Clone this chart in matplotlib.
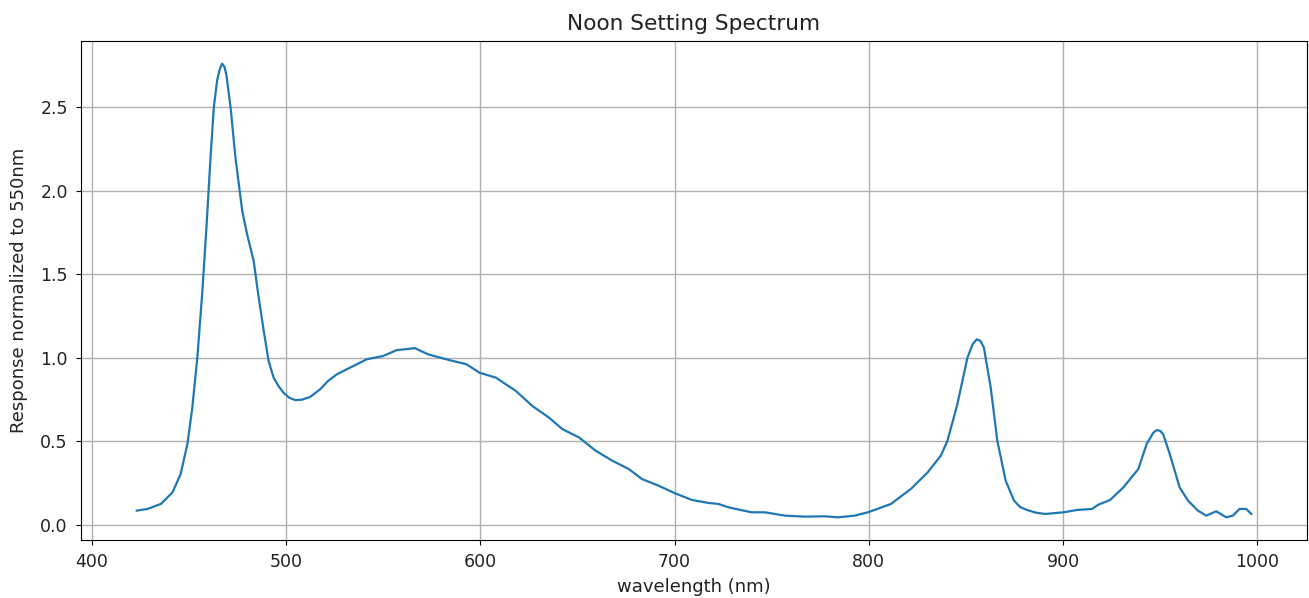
import matplotlib
matplotlib.use("Agg")
import matplotlib.pyplot as plt

wavelength = [423, 428.5, 435.4, 441.4, 445.6, 449.1, 451.6, 454.2, 456.8, 459.0,
              461.0, 462.7, 464.4, 465.8, 467.0, 468.2, 469.2, 471.3, 473.8, 477.3,
              479.8, 483.2, 485.8, 488.4, 490.9, 493.5, 496.0, 498.6, 501.5, 504.6,
              508.0, 512.3, 517.4, 521.5, 526.0, 534.5, 541.4, 549.9, 556.8, 561.0,
              566.2, 573.0, 584.1, 592.7, 599.5, 608.0, 618.3, 626.8, 635.4, 642.2,
              650.8, 659.3, 667.9, 676.4, 683.2, 691.8, 700.4, 708.9, 717.4, 722.6,
              727.7, 739.6, 746.5, 756.8, 767.0, 777.3, 784.1, 792.7, 799.5, 804.6,
              811.4, 821.7, 830.3, 837.1, 840.5, 845.6, 850.8, 853.5, 855.6, 857.5,
              859.3, 862.8, 866.2, 870.5, 874.8, 878.0, 881.5, 886.0, 890.9, 900.4,
              907.2, 914.9, 918.3, 924.3, 931.1, 938.8, 943.1, 946.5, 948.2, 950.0,
              951.6, 955.0, 960.1, 964.4, 969.5, 973.8, 978.9, 984.1, 987.5, 990.9,
              994.4, 997.0]
response = [0.084, 0.094, 0.124, 0.193, 0.303, 0.483, 0.70, 1.00, 1.40, 1.80,
            2.20, 2.50, 2.66, 2.73, 2.76, 2.74, 2.69, 2.50, 2.20, 1.88,
            1.74, 1.58, 1.36, 1.16, 0.98, 0.88, 0.83, 0.79, 0.76, 0.746,
            0.748, 0.765, 0.81, 0.86, 0.90, 0.95, 0.99, 1.01, 1.045, 1.05,
            1.057, 1.02, 0.985, 0.961, 0.91, 0.88, 0.80, 0.71, 0.64, 0.572,
            0.522, 0.443, 0.383, 0.333, 0.273, 0.233, 0.187, 0.148, 0.130, 0.124,
            0.104, 0.074, 0.074, 0.054, 0.048, 0.050, 0.044, 0.054, 0.074, 0.095,
            0.124, 0.214, 0.313, 0.413, 0.502, 0.72, 1.00, 1.08, 1.11, 1.10,
            1.06, 0.82, 0.502, 0.263, 0.144, 0.105, 0.088, 0.072, 0.064, 0.074,
            0.088, 0.094, 0.12, 0.148, 0.223, 0.333, 0.483, 0.55, 0.566, 0.562,
            0.542, 0.423, 0.223, 0.144, 0.084, 0.054, 0.080, 0.044, 0.054, 0.094,
            0.094, 0.064]

fig = plt.figure(figsize=(13.09, 5.98), dpi=100)
ax = fig.add_axes([0.0619, 0.097, 0.9366, 0.8344])
ax.plot(wavelength, response, color="#1f77b4", lw=1.6)
ax.grid(True, color="#b0b0b0", lw=1.0)
ax.set_title("Noon Setting Spectrum", fontsize=15.6, pad=8, color="#222222")
ax.set_xlabel("wavelength (nm)", fontsize=13, color="#222222", labelpad=5)
ax.set_ylabel("Response normalized to 550nm", fontsize=13, color="#222222", labelpad=9)
ax.tick_params(labelsize=12.5, pad=6, labelcolor="#222222")
fig.savefig("out.png", dpi=100)
